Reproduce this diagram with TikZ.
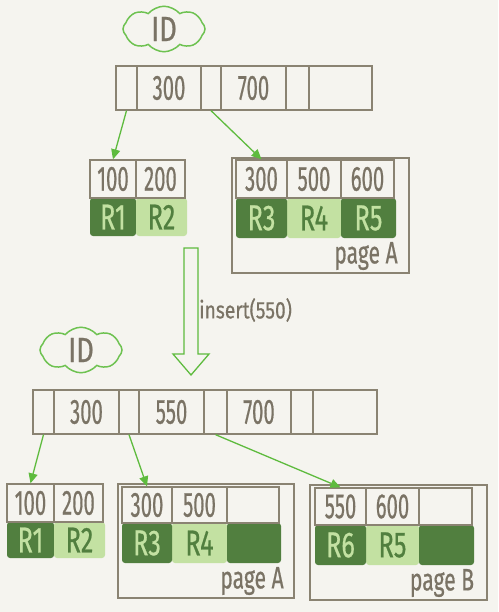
\documentclass[tikz,border=0pt]{standalone}
\usepackage{fontspec}
\setmainfont{Fira Sans}[FakeBold=0.7]
\usepackage{graphicx}
\usetikzlibrary{shapes.symbols,arrows.meta}
\definecolor{bg}{HTML}{F5F4EF}
\definecolor{ln}{HTML}{8A8372}
\definecolor{tx}{HTML}{7A7365}
\definecolor{dk}{HTML}{517F3F}
\definecolor{lt}{HTML}{C3E1A2}
\definecolor{ar}{HTML}{5EBB3E}
\newcommand{\hw}[2][0.58]{\scalebox{#1}[1]{#2}}
\tikzset{
  cell/.style={draw=ln, line width=1.3pt, inner sep=0pt, text=tx, font=\fontsize{35}{35}\selectfont},
  pagebox/.style={draw=ln, line width=1.3pt, inner sep=0pt},
  dkblk/.style={fill=dk, rounded corners=3pt, inner sep=0pt, text=lt, font=\fontsize{36}{36}\selectfont},
  ltblk/.style={fill=lt, rounded corners=3pt, inner sep=0pt, text=dk, font=\fontsize{36}{36}\selectfont},
  pglabel/.style={text=tx, inner sep=0pt, font=\fontsize{31}{31}\selectfont},
  idcloud/.style={cloud, cloud puffs=8, cloud puff arc=100, aspect=2.3, draw=ar!90!white, line width=1.5pt, text=tx, inner sep=0pt, font=\fontsize{35}{35}\selectfont},
  ptr/.style={draw=ar, line width=1.3pt, -{Triangle[length=10pt,width=9pt]}},
}
\begin{document}
\begin{tikzpicture}[x=1pt,y=-1pt]
\fill[bg] (0,0) rectangle (498,612);
\useasboundingbox (0,0) rectangle (498,612);

% ---------- top tree ----------
\node[idcloud, minimum width=82, minimum height=34] (id1) at (164,29) {\hw[0.78]{ID}};

\node[cell, minimum width=21, minimum height=44] (a0) at (126.5,88) {};
\node[cell, minimum width=64, minimum height=44] (a300) at (169,88) {\hw{300}};
\node[cell, minimum width=20, minimum height=44] (a1) at (211,88) {};
\node[cell, minimum width=65, minimum height=44] (a700) at (253.5,88) {\hw{700}};
\node[cell, minimum width=23, minimum height=44] (a2) at (297.5,88) {};
\node[cell, minimum width=63, minimum height=44] (a3) at (340.5,88) {};

% left leaf
\node[dkblk, minimum width=46, minimum height=38] (aR1) at (113,217) {\hw[0.7]{R1}};
\node[ltblk, minimum width=51, minimum height=38] (aR2) at (161.5,217) {\hw[0.7]{R2}};
\node[cell, minimum width=46, minimum height=38] (b100) at (113,179) {\hw{100}};
\node[cell, minimum width=49, minimum height=38] (b200) at (160.5,179) {\hw{200}};

% page A (top)
\node[pagebox, minimum width=177, minimum height=115] (pgA1) at (320.5,215.5) {};
\node[ltblk, minimum width=54, minimum height=40] (aR4) at (314,218) {\hw[0.7]{R4}};
\node[dkblk, minimum width=51, minimum height=40] (aR3) at (261.5,218) {\hw[0.7]{R3}};
\node[dkblk, minimum width=55, minimum height=40] (aR5) at (368.5,218) {\hw[0.7]{R5}};
\node[cell, minimum width=51, minimum height=38] (b300) at (261.5,179) {\hw{300}};
\node[cell, minimum width=54, minimum height=38] (b500) at (314,179) {\hw{500}};
\node[cell, minimum width=53, minimum height=38] (b600) at (367.5,179) {\hw{600}};
\node[pglabel] (lblA1) at (366,256) {\hw[0.68]{page A}};

\draw[ptr] (a0.south) -- (b100.north);
\draw[ptr] (a1.south) -- (b300.north);

% ---------- insert arrow ----------
\draw[draw=ar, line width=1.3pt] (184,248) -- (198,248) -- (198,354) -- (209,354) -- (191,375) -- (173,354) -- (184,354) -- cycle;
\node[text=tx, inner sep=0pt, anchor=west, font=\fontsize{24}{24}\selectfont] (ins) at (199,310) {\hw[0.8]{insert(550)}};

% ---------- bottom tree ----------
\node[idcloud, minimum width=82, minimum height=36] (id2) at (81,350) {\hw[0.78]{ID}};

\node[cell, minimum width=21, minimum height=44] (c0) at (43.5,412) {};
\node[cell, minimum width=65, minimum height=44] (c300) at (86.5,412) {\hw{300}};
\node[cell, minimum width=20, minimum height=44] (c1) at (129,412) {};
\node[cell, minimum width=65, minimum height=44] (c550) at (171.5,412) {\hw{550}};
\node[cell, minimum width=23, minimum height=44] (c2) at (215.5,412) {};
\node[cell, minimum width=64, minimum height=44] (c700) at (259,412) {\hw{700}};
\node[cell, minimum width=22, minimum height=44] (c3) at (302,412) {};
\node[cell, minimum width=64, minimum height=44] (c4) at (345,412) {};

% left leaf
\node[dkblk, minimum width=47, minimum height=36] (dR1) at (30.5,540) {\hw[0.7]{R1}};
\node[ltblk, minimum width=51, minimum height=36] (dR2) at (79.5,540) {\hw[0.7]{R2}};
\node[cell, minimum width=47, minimum height=38] (d100) at (30.5,503) {\hw{100}};
\node[cell, minimum width=49, minimum height=38] (d200) at (78.5,503) {\hw{200}};

% page A (bottom)
\node[pagebox, minimum width=176, minimum height=114] (pgA2) at (206,541) {};
\node[ltblk, minimum width=55, minimum height=40] (dR4) at (199.5,543) {\hw[0.7]{R4}};
\node[dkblk, minimum width=50, minimum height=40] (dR3) at (147,543) {\hw[0.7]{R3}};
\node[dkblk, minimum width=54, minimum height=40] (dRx) at (254,543) {};
\node[cell, minimum width=50, minimum height=36] (e300) at (147,505) {\hw{300}};
\node[cell, minimum width=55, minimum height=36] (e500) at (199.5,505) {\hw{500}};
\node[cell, minimum width=52, minimum height=36] (e0) at (253,505) {};
\node[pglabel] (lblA2) at (252,581) {\hw[0.68]{page A}};

% page B
\node[pagebox, minimum width=177, minimum height=115] (pgB) at (398.5,542.5) {};
\node[ltblk, minimum width=53, minimum height=40] (fR5) at (392.5,545) {\hw[0.7]{R5}};
\node[dkblk, minimum width=51, minimum height=40] (fR6) at (340.5,545) {\hw[0.7]{R6}};
\node[dkblk, minimum width=55, minimum height=40] (fRx) at (446.5,545) {};
\node[cell, minimum width=51, minimum height=37] (f550) at (340.5,506.5) {\hw{550}};
\node[cell, minimum width=53, minimum height=37] (f600) at (392.5,506.5) {\hw{600}};
\node[cell, minimum width=53, minimum height=37] (f0) at (445.5,506.5) {};
\node[pglabel] (lblB) at (442,583) {\hw[0.68]{page B}};

\draw[ptr] (c0.south) -- (d100.north);
\draw[ptr] (c1.south) -- (e300.north);
\draw[ptr] (c2.south) -- (f550.north);
\end{tikzpicture}
\end{document}
